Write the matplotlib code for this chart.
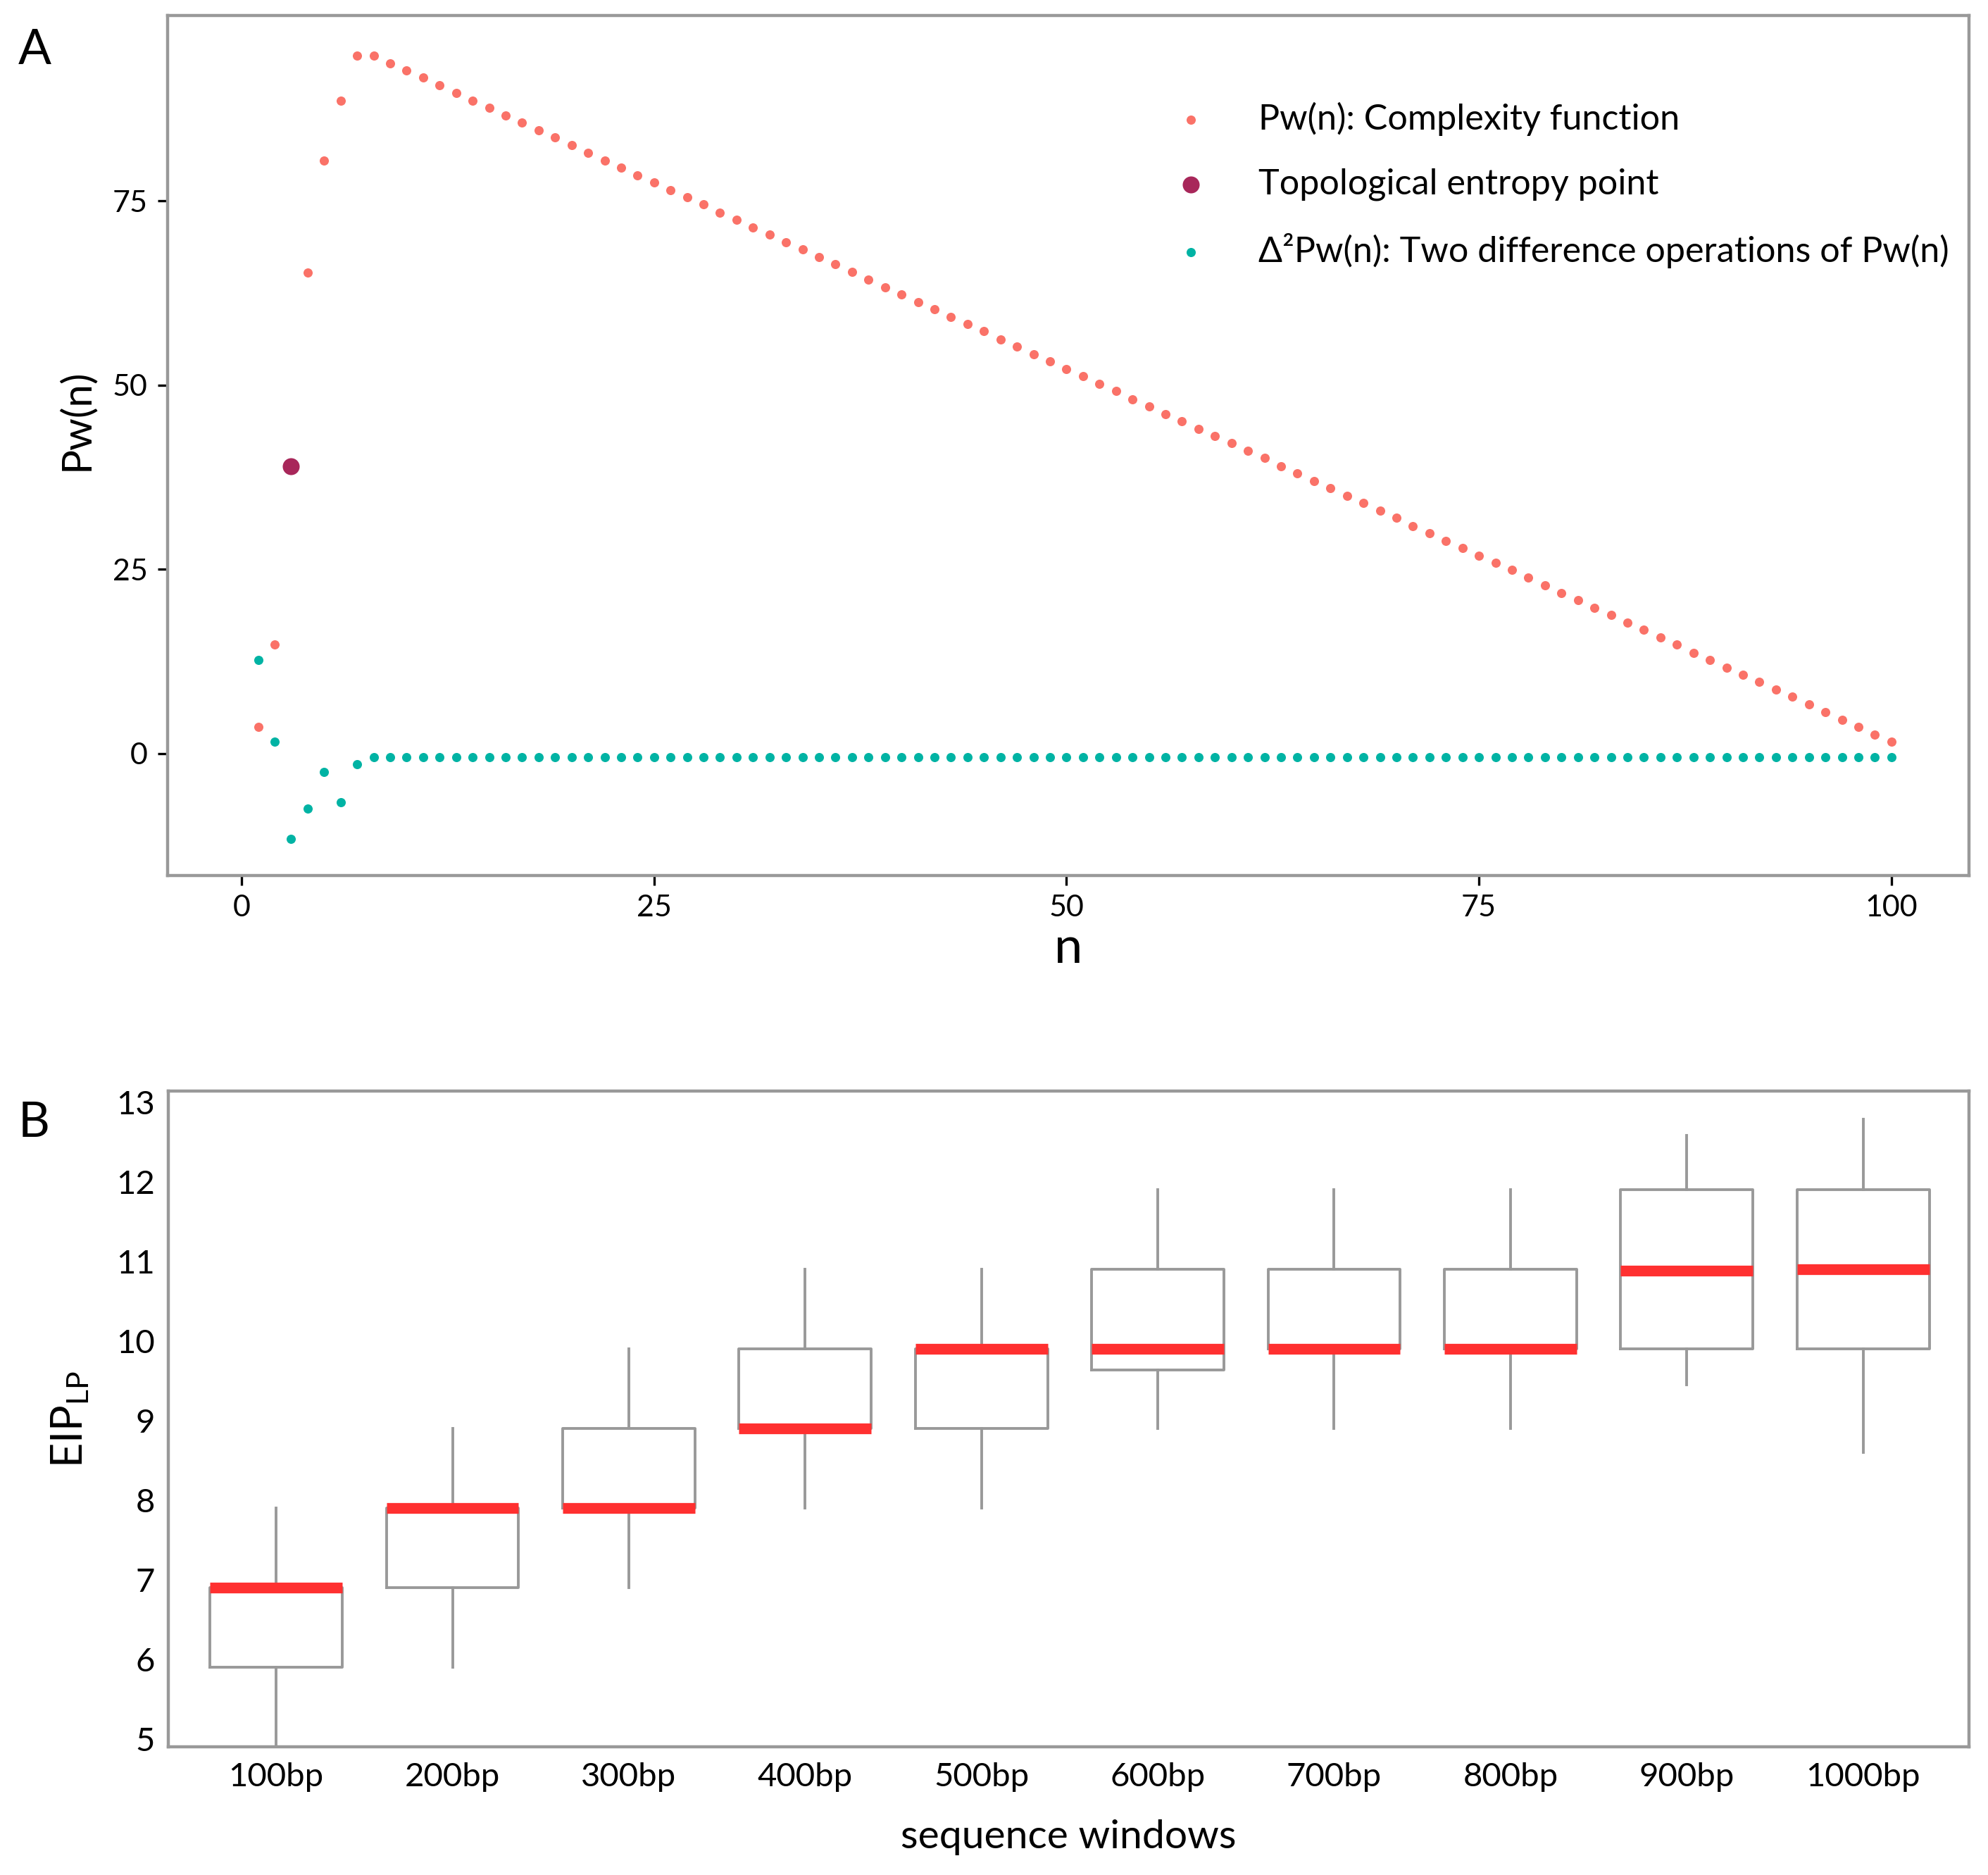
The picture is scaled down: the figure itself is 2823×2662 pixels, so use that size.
import matplotlib
matplotlib.use("Agg")
import matplotlib.pyplot as plt
import numpy as np

plt.rcParams['font.family'] = ['Lato', 'DejaVu Sans']
plt.rcParams['mathtext.fontset'] = 'custom'
plt.rcParams['mathtext.rm'] = 'Lato'

# ---- panel A data ----
n = np.arange(1, 101)
pw = [3.6, 14.8, 39.0, 65.3, 80.5, 88.6, 94.7,
      94.7, 93.7, 92.7, 91.7, 90.7, 89.6, 88.6, 87.6, 86.6, 85.6,
      84.6, 83.6, 82.6, 81.5, 80.5, 79.5, 78.5, 77.5, 76.5, 75.5,
      74.5, 73.4, 72.4, 71.4, 70.4, 69.4, 68.4, 67.4, 66.4, 65.4,
      64.3, 63.3, 62.3, 61.3, 60.3, 59.3, 58.3, 57.3, 56.2, 55.2,
      54.2, 53.2, 52.2, 51.2, 50.2, 49.2, 48.1, 47.1, 46.1, 45.1,
      44.1, 43.1, 42.1, 41.1, 40.1, 39.0, 38.0, 37.0, 36.0, 35.0,
      34.0, 33.0, 32.0, 30.9, 29.9, 28.9, 27.9, 26.9, 25.9, 24.9,
      23.9, 22.8, 21.8, 20.8, 19.8, 18.8, 17.8, 16.8, 15.8, 14.8,
      13.7, 12.7, 11.7, 10.7, 9.7, 8.7, 7.7, 6.7, 5.6, 4.6,
      3.6, 2.6, 1.6]
d2pw = [12.7, 1.6, -11.6, -7.5, -2.5, -6.6, -1.4] + [-0.5] * 93
entropy_n = [3]
entropy_val = [39.0]

# ---- panel B data ----
windows = ['100bp', '200bp', '300bp', '400bp', '500bp',
           '600bp', '700bp', '800bp', '900bp', '1000bp']
wlo = [4.9, 5.9, 6.9, 7.9, 7.9, 8.9, 8.9, 8.9, 9.45, 8.6]
q1 = [5.9, 6.9, 7.9, 8.9, 8.9, 9.64, 9.9, 9.9, 9.9, 9.9]
med = [6.9, 7.9, 7.9, 8.9, 9.9, 9.9, 9.9, 9.9, 10.88, 10.9]
q3 = [6.9, 7.9, 8.9, 9.9, 9.9, 10.9, 10.9, 10.9, 11.9, 11.9]
whi = [7.9, 8.9, 9.9, 10.9, 10.9, 11.9, 11.9, 11.9, 12.58, 12.79]

c_pw = '#FA7268'
c_d2 = '#00B3A4'
c_ent = '#A8275A'
grey = '#999999'

fig = plt.figure(figsize=(14.115, 13.31), dpi=200)
axA = fig.add_axes([0.0842, 0.5332, 0.9062, 0.4587])
axB = fig.add_axes([0.0848, 0.0683, 0.9056, 0.3498])

axA.scatter(n, pw, s=22, color=c_pw, lw=0, label='Pw(n): Complexity function', zorder=3)
axA.scatter(entropy_n, entropy_val, s=75, color=c_ent, lw=0,
            label='Topological entropy point', zorder=4)
axA.scatter(n, d2pw, s=22, color=c_d2, lw=0,
            label='Δ²Pw(n): Two difference operations of Pw(n)', zorder=3)
axA.set_xlim(-4.5, 104.7)
axA.set_ylim(-16.5, 100.2)
axA.set_xticks([0, 25, 50, 75, 100])
axA.set_yticks([0, 25, 50, 75])
axA.set_xlabel('n', fontsize=26, labelpad=2)
axA.set_ylabel('Pw(n)', fontsize=21, labelpad=9, y=0.53)
axA.legend(loc='upper left', bbox_to_anchor=(0.5466, 0.92), frameon=False,
           fontsize=18.1, handletextpad=1.3, labelspacing=0.91,
           borderpad=0, handlelength=1.2)

for ax in (axA, axB):
    for sp in ax.spines.values():
        sp.set_color(grey)
        sp.set_linewidth(1.6)
axA.tick_params(length=5, width=1.2, color='black', labelsize=15.5, pad=5)

stats = []
for i in range(len(windows)):
    stats.append(dict(med=med[i], q1=q1[i], q3=q3[i], whislo=wlo[i], whishi=whi[i],
                      label=windows[i]))
axB.bxp(stats, positions=np.arange(len(windows)), widths=0.75, showfliers=False,
        showcaps=False,
        boxprops=dict(color=grey, lw=1.4),
        whiskerprops=dict(color=grey, lw=1.4),
        medianprops=dict(color='#FF3030', lw=5.5, solid_capstyle='butt'))
axB.set_xlim(-0.61, 9.6)
axB.set_ylim(4.9, 13.14)
axB.set_yticks(range(5, 14))
axB.tick_params(axis='x', length=0, labelsize=17, pad=8)
axB.tick_params(axis='y', length=0, labelsize=17, pad=7)
axB.set_xlabel('sequence windows', fontsize=20.5, labelpad=14)
axB.set_ylabel(r'EIP$_{\mathregular{LP}}$', fontsize=22, labelpad=13)

fig.text(0.009, 0.973, 'A', fontsize=25, va='center')
fig.text(0.009, 0.401, 'B', fontsize=25, va='center')

fig.savefig('out.png', dpi=200)
